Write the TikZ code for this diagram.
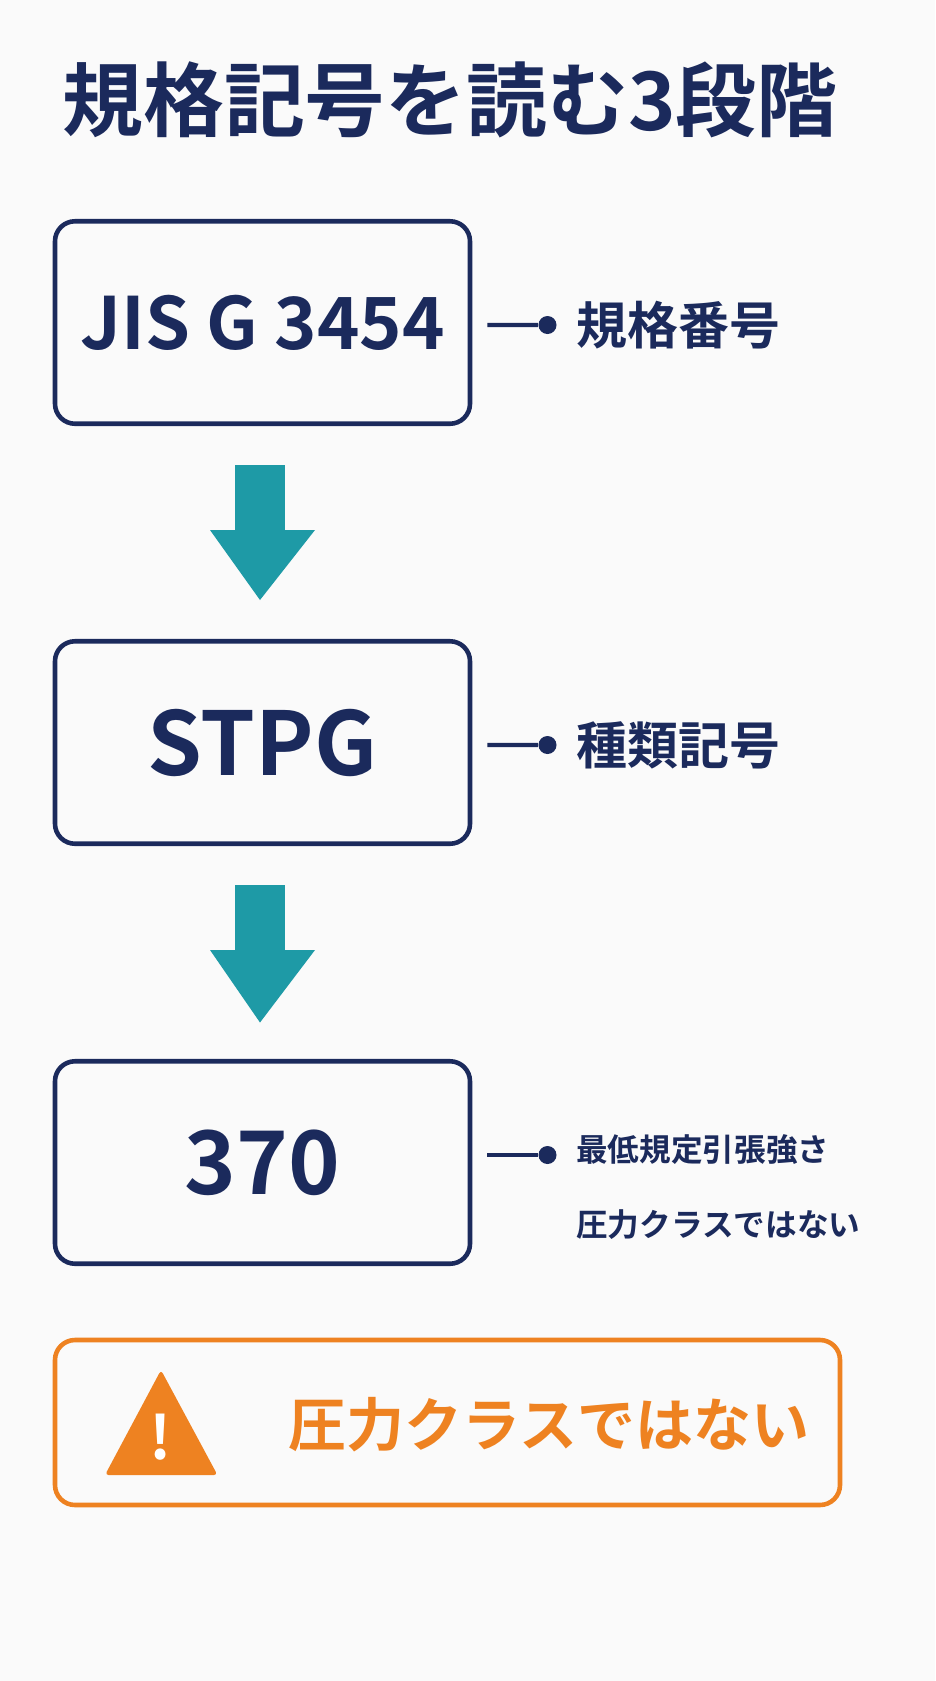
\documentclass[tikz,border=0pt]{standalone}
\usepackage{fontspec}
\setmainfont{Noto Sans CJK JP}[BoldFont={* Bold}]
\definecolor{navy}{HTML}{1B2A5C}
\definecolor{teal}{HTML}{1E9AA6}
\definecolor{warn}{HTML}{EE8221}
\definecolor{paper}{HTML}{FAFAFA}
\tikzset{
	stage/.style={draw=navy,line width=2.6pt,rounded corners=0.4cm,minimum width=8.3cm,minimum height=4.05cm,text=navy,font=\bfseries\fontsize{50}{50}\selectfont},
	tag/.style={anchor=west,text=navy,font=\bfseries\fontsize{29}{29}\selectfont},
	link/.style={navy,line width=2.4pt},
	dot/.style={circle,fill=navy,inner sep=0pt,minimum size=0.36cm},
	down/.style={fill=teal}
}
\begin{document}
\begin{tikzpicture}
	\fill[paper] (0,0) rectangle (18.7,-33.62);
	\useasboundingbox (0,0) rectangle (18.7,-33.62);
	
	\node[text=navy,font=\bfseries\fontsize{46}{46}\selectfont] (title) at (9,-2) {規格記号を読む3段階};
	
	\node[stage,font=\bfseries\fontsize{41}{41}\selectfont] (jis) at (5.25,-6.45) {JIS G 3454};
	\node[stage] (stpg) at (5.25,-14.85) {STPG};
	\node[stage] (num) at (5.25,-23.25) {370};
	
	% connectors
	\node[dot] (d1) at (10.95,-6.5) {};
	\node[dot] (d2) at (10.95,-14.9) {};
	\node[dot] (d3) at (10.95,-23.1) {};
	\draw[link] (jis.east) ++(0.3,-0.05) coordinate (s1) -- (d1);
	\draw[link] (stpg.east) ++(0.3,-0.05) coordinate (s2) -- (d2);
	\draw[link] (num.east) ++(0.3,0.15) coordinate (s3) -- (d3);
	\node[tag] (t1) at (11.4,-6.5) {規格番号};
	\node[tag] (t2) at (11.4,-14.9) {種類記号};
	\node[tag,font=\bfseries\fontsize{18}{18}\selectfont] (t3) at (11.4,-23.0) {最低規定引張強さ};
	\node[tag,font=\bfseries\fontsize{18}{18}\selectfont] (t4) at (11.4,-24.5) {圧力クラスではない};
	
	% arrows
	\fill[down] (4.7,-9.3) rectangle (5.7,-10.6);
	\fill[down] (4.2,-10.6) -- (6.3,-10.6) -- (5.2,-12.0) -- cycle;
	\fill[down] (4.7,-17.7) rectangle (5.7,-19.0);
	\fill[down] (4.2,-19.0) -- (6.3,-19.0) -- (5.2,-20.45) -- cycle;
	
	% warning
	\node[draw=warn,line width=2.6pt,rounded corners=0.4cm,minimum width=15.7cm,minimum height=3.3cm] (warnbox) at (8.95,-28.45) {};
	\fill[warn,rounded corners=2pt] (2.1,-29.5) -- (4.35,-29.5) -- (3.22,-27.4) -- cycle;
	\node[text=white,font=\bfseries\fontsize{34}{34}\selectfont] (bang) at (3.22,-28.75) {!};
	\node[anchor=west,text=warn,font=\bfseries\fontsize{33}{33}\selectfont] (wtext) at (5.65,-28.5) {圧力クラスではない};
\end{tikzpicture}
\end{document}
